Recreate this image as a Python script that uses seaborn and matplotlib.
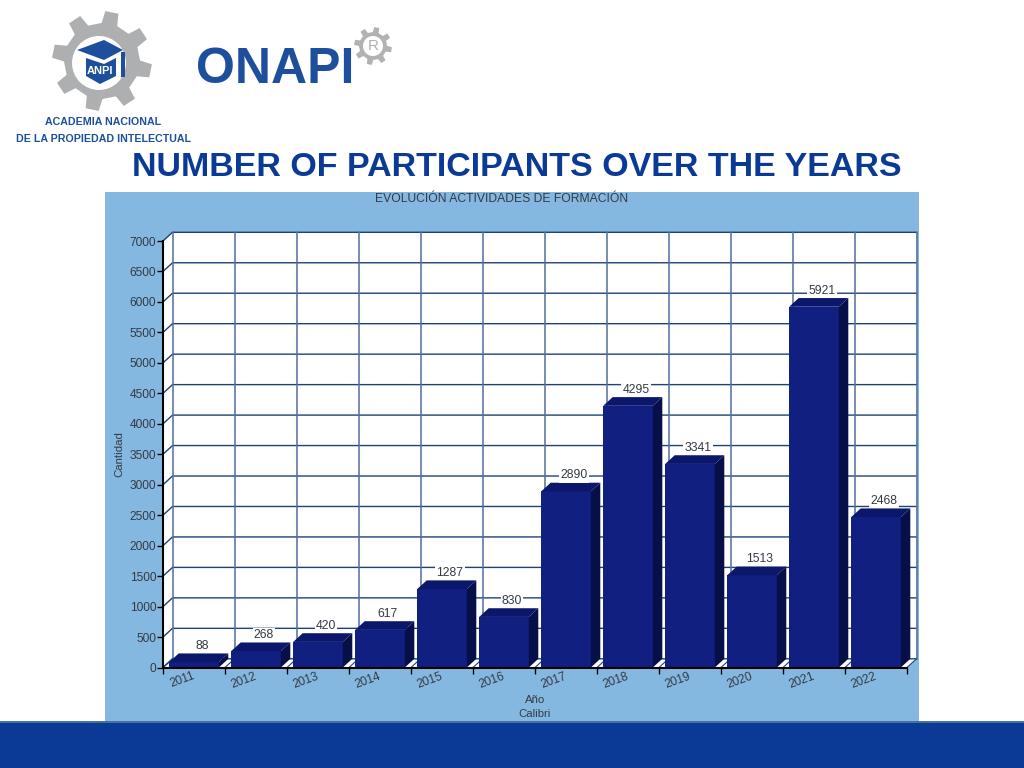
#plot.py

import numpy as np
import matplotlib
matplotlib.use("Agg")
import matplotlib.pyplot as plt
from matplotlib.patches import Polygon, Rectangle, Circle
from matplotlib.transforms import Affine2D
import seaborn as sns

# -- chart values --
years = ["2011", "2012", "2013", "2014", "2015", "2016", "2017", "2018", "2019", "2020", "2021", "2022"]
participants = [88, 268, 420, 617, 1287, 830, 2890, 4295, 3341, 1513, 5921, 2468]
y_ticks = list(range(0, 7500, 500))

title = "NUMBER OF PARTICIPANTS OVER THE YEARS"
chart_title = "EVOLUCIÓN ACTIVIDADES DE FORMACIÓN"

# -- colours --
navy = "#0b3a96"
panel = "#85b8e0"
front = "#101f80"
top = "#0b176a"
side = "#060f48"
grid_h = "#1d4277"
grid_v = "#4f6f9c"
text_c = "#333a44"

sns.set_style("white")
plt.rcParams["font.family"] = ["Liberation Sans", "DejaVu Sans"]

W, H = 1024, 768
fig = plt.figure(figsize=(W / 100, H / 100), dpi=100, facecolor="white")


def gear(bg, cx, cy, r_out, r_in, n, color):
    # teeth as a stepped outline
    pitch = 2 * np.pi / n
    base = np.arange(n) * pitch + 0.2
    ang = np.ravel(np.c_[base - 0.27 * pitch, base - 0.17 * pitch, base + 0.17 * pitch, base + 0.27 * pitch])
    rad = np.tile([r_in, r_out, r_out, r_in], n)
    pts = np.c_[cx + rad * np.cos(ang), cy + rad * np.sin(ang)]
    bg.add_patch(Polygon(pts, closed=True, color=color, lw=0))


# -- page background, logos, title --
bg = fig.add_axes([0, 0, 1, 1], zorder=-1)
bg.set_xlim(0, W)
bg.set_ylim(H, 0)
bg.axis("off")
bg.add_patch(Rectangle((105, 192), 814, 530, color=panel, lw=0))
bg.add_patch(Rectangle((0, 721), W, 47, color=navy, lw=0))
bg.add_patch(Rectangle((0, 721), W, 2, color="#47709c", lw=0))

gear(bg, 102, 61, 50, 38, 8, "#adafb1")
bg.add_patch(Circle((99, 63), 27, color="white", lw=0))
bg.add_patch(Polygon([[77, 50], [104, 40], [123, 50], [104, 60]], closed=True, color="#1d4f9c", lw=0))
bg.add_patch(Polygon([[86, 58], [104, 64], [116, 58], [116, 76], [100, 84], [86, 76]], closed=True, color="#1d4f9c", lw=0))
bg.add_patch(Rectangle((121, 52), 4, 25, color="#1d4f9c", lw=0))
bg.text(100, 71, "ANPI", color="white", fontsize=8, fontweight="bold", ha="center", va="center")
bg.text(103, 122, "ACADEMIA NACIONAL", color="#1d4f9c", fontsize=7.7, fontweight="bold", ha="center", va="center")
bg.text(103, 139, "DE LA PROPIEDAD INTELECTUAL", color="#1d4f9c", fontsize=7.7, fontweight="bold", ha="center", va="center")

bg.text(275, 70, "ONAPI", color="#1d4f9c", fontsize=36, fontweight="bold", ha="center", va="center")
gear(bg, 373, 46, 19, 14, 8, "#b0b2b3")
bg.add_patch(Circle((373, 46), 10, color="white", lw=0))
bg.text(373, 46, "R", color="#adafb1", fontsize=11, ha="center", va="center")

bg.text(517, 168, title, color=navy, fontsize=24.5, fontweight="bold", ha="center", va="center")
bg.text(502, 199, chart_title, color=text_c, fontsize=8.75, ha="center", va="center")
bg.text(119, 454, "Cantidad", color=text_c, fontsize=8.2, rotation=90, ha="center", va="center")
bg.text(535, 700, "Año", color=text_c, fontsize=8.2, ha="center", va="center")
bg.text(535, 714, "Calibri", color=text_c, fontsize=8.2, ha="center", va="center")

# -- chart, front plane --
left, right, y_top, y_bot = 163, 907, 241, 667.5
ax = fig.add_axes([left / W, 1 - y_bot / H, (right - left) / W, (y_bot - y_top) / H])
ax.patch.set_alpha(0)

# depth of the fake 3d in data units
dx = 9.5 / 62
dy = 8.7 / ((y_bot - y_top) / 7000)

# walls and floor behind the bars
x0, x1 = -0.5, 11.5
ax.add_patch(Polygon([[x0, 0], [x0, 7000], [x0 + dx, 7000 + dy], [x1 + dx, 7000 + dy],
                      [x1 + dx, dy], [x1, 0]], closed=True, color="white", lw=0, clip_on=False, zorder=0))
for v in y_ticks:
    ax.plot([x0, x0 + dx, x1 + dx], [v, v + dy, v + dy], color=grid_h, lw=1, clip_on=False, zorder=1)
for i in range(len(years) + 1):
    ax.plot([x0 + i + dx] * 2, [dy, 7000 + dy], color=grid_v, lw=1.1, clip_on=False, zorder=1)
    ax.plot([x0 + i, x0 + i + dx], [0, dy], color=grid_h, lw=0.8, clip_on=False, zorder=1)

sns.barplot(x=years, y=participants, color=front, saturation=1, width=0.8, ax=ax, zorder=3, linewidth=0)

# side and top faces built from each seaborn bar
for p in list(ax.patches):
    if not isinstance(p, Rectangle) or p.get_width() > 1:
        continue
    a, b, v = p.get_x(), p.get_x() + p.get_width(), p.get_height()
    ax.add_patch(Polygon([[b, 0], [b, v], [b + dx, v + dy], [b + dx, dy]], closed=True,
                         color=side, lw=0, clip_on=False, zorder=3))
    ax.add_patch(Polygon([[a, v], [a + dx, v + dy], [b + dx, v + dy], [b, v]], closed=True,
                         color=top, lw=0, clip_on=False, zorder=3))

for i, v in enumerate(participants):
    ax.annotate(str(v), xy=(i, v), xytext=(8, 16), textcoords="offset pixels", ha="center", va="center",
                fontsize=8.8, color=text_c, zorder=5,
                bbox=dict(facecolor="white", edgecolor="none", pad=0.8))

ax.set_xlim(x0, x1)
ax.set_ylim(0, 7000)
ax.set_xlabel("")
ax.set_ylabel("")
ax.set_yticks(y_ticks)
ax.set_xticks(np.arange(len(years)))
ax.set_xticks(np.arange(len(years) + 1) - 0.5, minor=True)
ax.set_xticklabels(years)
ax.tick_params(axis="y", length=4, width=1, left=True, color="black", labelsize=8.6, labelcolor=text_c, pad=1)
ax.tick_params(axis="x", which="major", length=0, labelsize=8.6, labelcolor=text_c, pad=2, rotation=20)
ax.tick_params(axis="x", which="minor", length=4, width=1, bottom=True, color="black")
for lab in ax.get_xticklabels():
    lab.set_transform(lab.get_transform() + Affine2D().translate(-12, 0))

sns.despine(ax=ax)
for s in ["left", "bottom"]:
    ax.spines[s].set_color("black")
    ax.spines[s].set_linewidth(1.5)
    ax.spines[s].set_zorder(6)

fig.savefig("out.png", dpi=100)
